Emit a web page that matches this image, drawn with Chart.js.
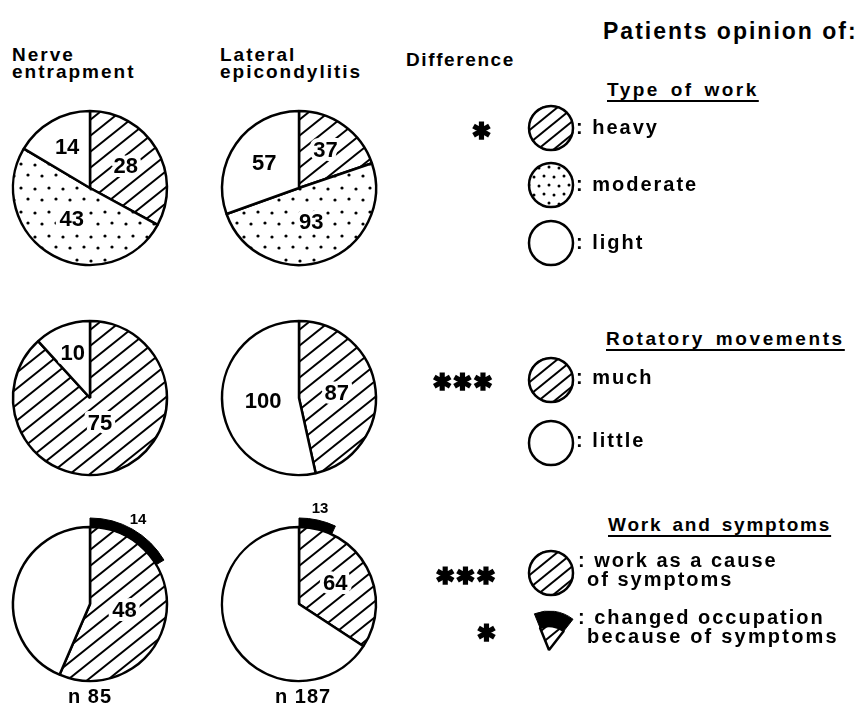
<!DOCTYPE html>
<html>
<head>
<meta charset="utf-8">
<script src="https://cdn.jsdelivr.net/npm/chart.js@4/dist/chart.umd.min.js"></script>
<style>
  body { margin: 0; background: #fff; }
  #page { position: relative; width: 857px; height: 709px; overflow: hidden; background: #fff;
          font-family: "Liberation Sans", Arial, sans-serif; font-weight: bold; color: #000; }
  .t { position: absolute; white-space: nowrap; letter-spacing: 2px; }
  .u { text-decoration: underline; text-decoration-thickness: 2px; text-underline-offset: 4px; }
  .star { position: absolute; white-space: nowrap; font-family: "DejaVu Sans", sans-serif; font-weight: bold;
          transform: translate(-50%, -50%); line-height: 1; -webkit-text-stroke: 1.6px #000; letter-spacing: 1px; }
  canvas { position: absolute; }
</style>
</head>
<body>
<div id="page"></div>
<script>
// data
const groups = ['Nerve\nentrapment', 'Lateral\nepicondylitis'];
const sampleSizes = [85, 187];
const workTypes = ['heavy', 'moderate', 'light'];
const workTypeCounts = [[28, 43, 14], [37, 93, 57]];
const rotationLevels = ['much', 'little'];
const rotationCounts = [[75, 10], [87, 100]];
const workCauseCounts = [48, 64];
const changedJobCounts = [14, 13];
const significance = ['*', '***', '***', '*'];

const page = document.getElementById('page');

function addText(txt, left, baseline, size, cls, extra) {
  const d = document.createElement('div');
  d.className = 't' + (cls ? ' ' + cls : '');
  d.style.fontSize = size + 'px';
  d.style.lineHeight = size + 'px';
  d.style.left = left + 'px';
  d.style.top = (baseline - 0.85 * size) + 'px';
  if (extra) Object.assign(d.style, extra);
  d.textContent = txt;
  page.appendChild(d);
  return d;
}

function addStar(txt, cx, cy) {
  const d = document.createElement('div');
  d.className = 'star';
  d.style.fontSize = '23px';
  d.style.left = cx + 'px';
  d.style.top = cy + 'px';
  d.textContent = txt.replace(/\*/g, '\u2731');
  page.appendChild(d);
}

function hatch(w, h, lw) {
  const c = document.createElement('canvas');
  c.width = w; c.height = h;
  const g = c.getContext('2d');
  g.fillStyle = '#fff';
  g.fillRect(0, 0, w, h);
  g.strokeStyle = '#000';
  g.lineWidth = lw;
  for (let k = -1; k <= 1; k++) {
    g.beginPath();
    g.moveTo(-w, 2 * h + k * h);
    g.lineTo(2 * w, -h + k * h);
    g.stroke();
  }
  return g.createPattern(c, 'repeat');
}

function dots(w, h, pts, rad) {
  const c = document.createElement('canvas');
  c.width = w; c.height = h;
  const g = c.getContext('2d');
  g.fillStyle = '#fff';
  g.fillRect(0, 0, w, h);
  g.fillStyle = '#000';
  pts.forEach(p => {
    g.beginPath(); g.arc(p[0], p[1], rad, 0, Math.PI * 2); g.fill();
  });
  return g.createPattern(c, 'repeat');
}

const HATCH = hatch(20, 16, 2);
const HATCH_S = hatch(16, 13, 2);
const DOTS = dots(28, 24, [[3, 4], [17, 5], [10, 15], [24, 16]], 1.6);
const DOTS_S = dots(20, 18, [[3, 3], [13, 4], [8, 12], [18, 13]], 1.5);
const NONE = 'rgba(0,0,0,0)';

const valueLabels = {
  id: 'valueLabels',
  afterDatasetsDraw(chart) {
    const ctx = chart.ctx;
    chart.data.datasets.forEach((ds, i) => {
      if (!ds.shown) return;
      chart.getDatasetMeta(i).data.forEach((arc, j) => {
        if (!ds.shown[j]) return;
        const p = arc.getProps(['x', 'y', 'startAngle', 'endAngle', 'outerRadius']);
        const a = (p.startAngle + p.endAngle) / 2;
        const spanDeg = (p.endAngle - p.startAngle) * 180 / Math.PI;
        // big slices carry their number nearer the centre
        const r = ds.outside ? p.outerRadius + 11 : p.outerRadius * Math.max(0.36, 0.66 - spanDeg / 1000);
        const x = p.x + Math.cos(a) * r;
        const y = p.y + Math.sin(a) * r;
        const txt = String(ds.data[j]);
        ctx.save();
        ctx.font = 'bold ' + (ds.outside ? '15px' : '22px') + ' "Liberation Sans", Arial, sans-serif';
        ctx.textAlign = 'center';
        ctx.textBaseline = 'middle';
        if (!ds.outside) {
          ctx.lineJoin = 'round';
          ctx.lineWidth = 8;
          ctx.strokeStyle = '#fff';
          ctx.strokeText(txt, x, y);
        }
        ctx.fillStyle = '#000';
        ctx.fillText(txt, x, y);
        ctx.restore();
      });
    });
  }
};

// round outline for the one-slice legend circles (no radial seam)
const outline = {
  id: 'outline',
  afterDatasetsDraw(chart) {
    const arc = chart.getDatasetMeta(0).data[0];
    const ctx = chart.ctx;
    ctx.save();
    ctx.lineWidth = 2.5;
    ctx.strokeStyle = '#000';
    ctx.beginPath();
    ctx.arc(arc.x, arc.y, arc.outerRadius - 1, 0, Math.PI * 2);
    ctx.stroke();
    ctx.restore();
  }
};

function makePie(cx, cy, size, radius, datasets, rotation, extraPlugins) {
  const cv = document.createElement('canvas');
  cv.width = size; cv.height = size;
  cv.style.left = (cx - size / 2) + 'px';
  cv.style.top = (cy - size / 2) + 'px';
  page.appendChild(cv);
  new Chart(cv, {
    type: 'pie',
    data: { labels: datasets[0].data.map((_, i) => i), datasets },
    options: {
      responsive: false,
      animation: false,
      events: [],
      radius: radius,
      rotation: rotation || 0,
      layout: { padding: 0 },
      plugins: { legend: { display: false }, tooltip: { enabled: false } }
    },
    plugins: [valueLabels].concat(extraPlugins || [])
  });
}

function legendCircle(cx, cy, fill) {
  makePie(cx, cy, 60, 23, [{ data: [1], backgroundColor: [fill], borderWidth: 0 }], 0, [outline]);
}

const R = 77;
const colX = [90, 299];
const rowY = [188, 398, 604];

groups.forEach((g, i) => {
  // row 1: type of work
  makePie(colX[i], rowY[0], 200, R, [{
    data: workTypeCounts[i],
    backgroundColor: [HATCH, DOTS, '#fff'],
    borderColor: '#000', borderWidth: 2.5,
    shown: [true, true, true]
  }]);
  // row 2: rotatory movements
  makePie(colX[i], rowY[1], 200, R, [{
    data: rotationCounts[i],
    backgroundColor: [HATCH, '#fff'],
    borderColor: '#000', borderWidth: 2.5,
    shown: [true, true]
  }]);
  // row 3: work and symptoms, with changed occupation as an outer band
  makePie(colX[i], rowY[2], 220, R + 9, [{
    data: [changedJobCounts[i], sampleSizes[i] - changedJobCounts[i]],
    backgroundColor: ['#000', NONE],
    borderColor: ['#000', NONE], borderWidth: [1, 0],
    weight: 9, outside: true,
    shown: [true, false]
  }, {
    data: [workCauseCounts[i], sampleSizes[i] - workCauseCounts[i]],
    backgroundColor: [HATCH, '#fff'],
    borderColor: '#000', borderWidth: 2.5,
    weight: R,
    shown: [true, false]
  }]);

  const lines = g.split('\n');
  const hx = i ? 220 : 12;
  addText(lines[0], hx, 61, 19);
  addText(lines[1], hx, 78, 19);
  addText('n ' + sampleSizes[i], colX[i] - 22 + (i ? -2 : 0), 703, 20, '', { letterSpacing: '1px' });
});

// header / legend text
addText('Difference', 406, 66, 19, '', { letterSpacing: '1.6px' });
addText('Patients opinion of:', 603, 40, 23, '', { letterSpacing: '2px' });

addText('Type of work', 607, 96, 19, 'u', { letterSpacing: '2.5px', wordSpacing: '3px' });
addText('Rotatory movements', 606, 345, 19, 'u', { letterSpacing: '2.6px', wordSpacing: '3px' });
addText('Work and symptoms', 608, 531, 19, 'u', { letterSpacing: '1.8px', wordSpacing: '3px' });

const iconX = 551;
const typeY = [128, 185, 243];
const typeFill = [HATCH_S, DOTS_S, '#fff'];
workTypes.forEach((w, k) => {
  legendCircle(iconX, typeY[k], typeFill[k]);
  addText(': ' + w, 576, typeY[k] + 6, 20, '', { letterSpacing: '2px' });
});
const rotY = [380, 443];
const rotFill = [HATCH_S, '#fff'];
rotationLevels.forEach((w, k) => {
  legendCircle(iconX, rotY[k], rotFill[k]);
  addText(': ' + w, 576, rotY[k] + 4, 20, '', { letterSpacing: '2px' });
});

legendCircle(iconX, 573, HATCH_S);
addText(': work as a cause', 578, 567, 20, '', { letterSpacing: '2px' });
addText('of symptoms', 587, 586, 20, '', { letterSpacing: '2px' });

// changed-occupation wedge icon
makePie(549, 650, 100, 39, [{
  data: [1, 5], backgroundColor: ['#000', NONE], borderColor: ['#000', NONE], borderWidth: [1, 0], weight: 15
}, {
  data: [1, 5], backgroundColor: [HATCH_S, NONE], borderColor: ['#000', NONE], borderWidth: [2.5, 0], weight: 24
}], -22);
addText(': changed occupation', 578, 624, 20, '', { letterSpacing: '2px' });
addText('because of symptoms', 587, 643, 20, '', { letterSpacing: '2.2px' });

// significance markers
addStar(significance[0], 482, 131);
addStar(significance[1], 463, 382);
addStar(significance[2], 466, 576);
addStar(significance[3], 487, 633);
</script>
</body>
</html>
